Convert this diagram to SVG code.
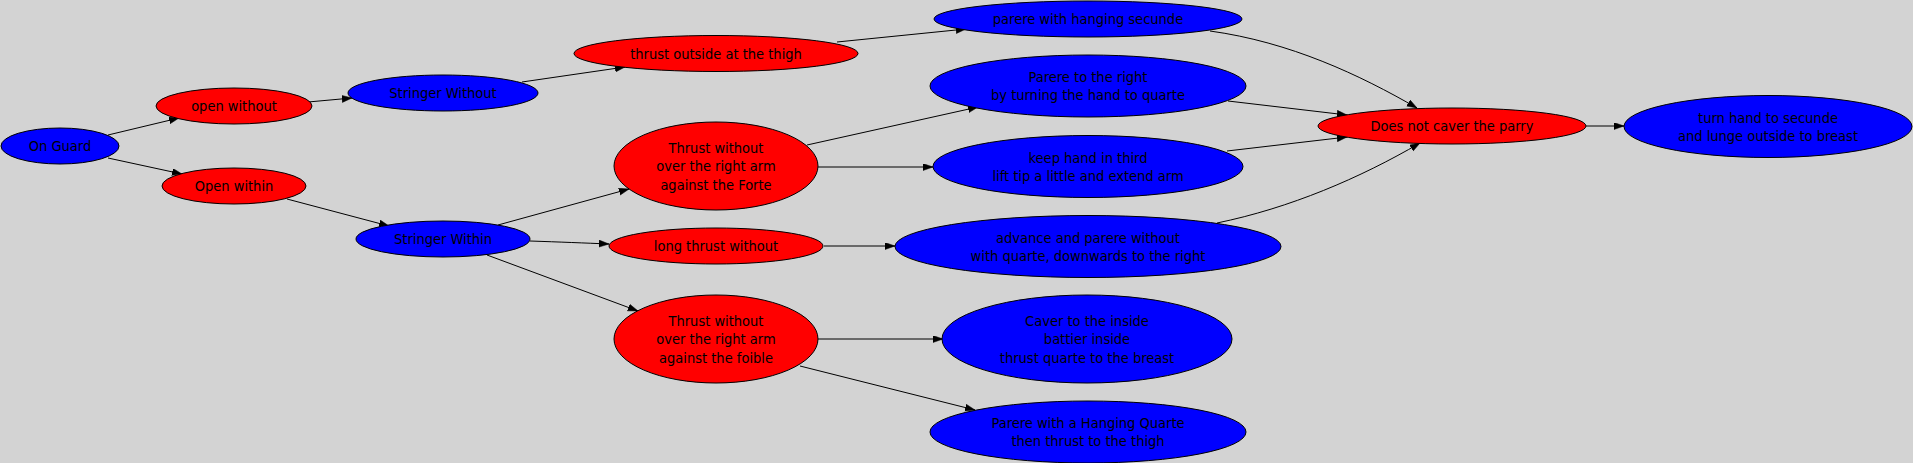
<svg xmlns="http://www.w3.org/2000/svg" width="1913" height="463" viewBox="0 0 1913 463">
<defs>
<style>
.bg{fill:#d3d3d3}
.b{fill:#0000ff;stroke:#000;stroke-width:1}
.r{fill:#ff0000;stroke:#000;stroke-width:1}
text{font-family:"DejaVu Sans Condensed","DejaVu Sans",sans-serif;font-stretch:condensed;font-size:14.5px;fill:#000;text-anchor:middle}
.e path{fill:none;stroke:#000;stroke-width:1;marker-end:url(#arr)}
</style>
<marker id="arr" markerUnits="userSpaceOnUse" markerWidth="10" markerHeight="8" refX="10" refY="3.5" orient="auto">
<path d="M0,0 L10,3.5 L0,7 z" fill="#000" stroke="#000" stroke-width="0.5"/>
</marker>
</defs>
<rect class="bg" x="0" y="0" width="1913" height="463"/>
<g id="connectors" class="e">
<path d="M108,135 L179,118"/>
<path d="M108,158 L182,174"/>
<path d="M308,102 L352,98"/>
<path d="M522,82 L625,67"/>
<path d="M837,42 L966,29"/>
<path d="M287,199 L389,226"/>
<path d="M498,225 L629,189"/>
<path d="M530,241 C560,242 585,243 609,244"/>
<path d="M487,255 L638,311"/>
<path d="M807,145 L978,107"/>
<path d="M818,167 L933,167"/>
<path d="M824,246 L895,246"/>
<path d="M818,339 L943,339"/>
<path d="M800,366 L975,410"/>
<path d="M1210,31 C1290,42 1360,75 1417,108"/>
<path d="M1228,101 L1347,115"/>
<path d="M1227,151 L1347,137"/>
<path d="M1217,223 C1290,208 1360,178 1420,143"/>
<path d="M1586,126 L1624,126"/>
</g>
<g id="onguard"><ellipse class="b" cx="60" cy="146" rx="59" ry="18"/><text x="60" y="151.2">On Guard</text></g>
<g id="openwithout"><ellipse class="r" cx="234" cy="106" rx="78" ry="18"/><text x="234" y="111.2">open without</text></g>
<g id="openwithin"><ellipse class="r" cx="234" cy="186" rx="72" ry="18"/><text x="234" y="191.2">Open within</text></g>
<g id="stringerwithout"><ellipse class="b" cx="443" cy="93" rx="95" ry="18"/><text x="443" y="98.2">Stringer Without</text></g>
<g id="stringerwithin"><ellipse class="b" cx="443" cy="239" rx="87" ry="18"/><text x="443" y="244.2">Stringer Within</text></g>
<g id="thrustoutside"><ellipse class="r" cx="716" cy="53.5" rx="142" ry="18"/><text x="716" y="58.7">thrust outside at the thigh</text></g>
<g id="thrustforte"><ellipse class="r" cx="716" cy="166" rx="102" ry="44"/><text x="716" y="152.9">Thrust without</text><text x="716" y="171.2">over the right arm</text><text x="716" y="189.5">against the Forte</text></g>
<g id="longthrust"><ellipse class="r" cx="716" cy="246" rx="107" ry="18"/><text x="716" y="251.2">long thrust without</text></g>
<g id="thrustfoible"><ellipse class="r" cx="716" cy="339" rx="102" ry="44"/><text x="716" y="325.9">Thrust without</text><text x="716" y="344.2">over the right arm</text><text x="716" y="362.5">against the foible</text></g>
<g id="hangingsecunde"><ellipse class="b" cx="1088" cy="19" rx="154" ry="18"/><text x="1088" y="24.2">parere with hanging secunde</text></g>
<g id="parereright"><ellipse class="b" cx="1088" cy="86" rx="158" ry="31"/><text x="1088" y="82.2">Parere to the right</text><text x="1088" y="100.2">by turning the hand to quarte</text></g>
<g id="keephand"><ellipse class="b" cx="1088" cy="166.5" rx="155" ry="31"/><text x="1088" y="162.7">keep hand in third</text><text x="1088" y="180.7">lift tip a little and extend arm</text></g>
<g id="advance"><ellipse class="b" cx="1088" cy="246.5" rx="193" ry="31"/><text x="1088" y="242.7">advance and parere without</text><text x="1088" y="260.7">with quarte, downwards to the right</text></g>
<g id="caver"><ellipse class="b" cx="1087" cy="339" rx="145" ry="44"/><text x="1087" y="325.9">Caver to the inside</text><text x="1087" y="344.2">battier inside</text><text x="1087" y="362.5">thrust quarte to the breast</text></g>
<g id="hangingquarte"><ellipse class="b" cx="1088" cy="432" rx="158" ry="31"/><text x="1088" y="428.2">Parere with a Hanging Quarte</text><text x="1088" y="446.2">then thrust to the thigh</text></g>
<g id="doesnotcaver"><ellipse class="r" cx="1452" cy="126" rx="134" ry="18"/><text x="1452" y="131.2">Does not caver the parry</text></g>
<g id="turnhand"><ellipse class="b" cx="1768" cy="126.5" rx="144" ry="31"/><text x="1768" y="122.7">turn hand to secunde</text><text x="1768" y="140.7">and lunge outside to breast</text></g>
</svg>
